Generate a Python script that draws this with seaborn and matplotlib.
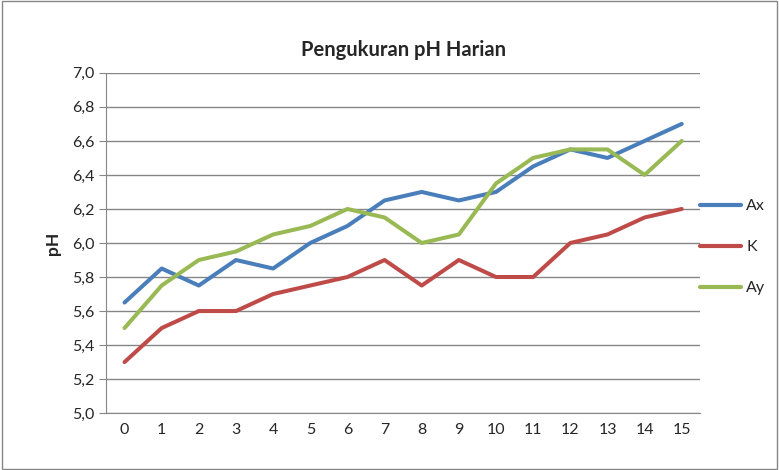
import matplotlib
matplotlib.use("Agg")
import matplotlib.pyplot as plt
from matplotlib.ticker import FixedLocator, FuncFormatter
import seaborn as sns
import pandas as pd

# daily pH readings
days = list(range(16))
ax_vals = [5.65, 5.85, 5.75, 5.9, 5.85, 6.0, 6.1, 6.25, 6.3, 6.25, 6.3, 6.45, 6.55, 6.5, 6.6, 6.7]
k_vals = [5.3, 5.5, 5.6, 5.6, 5.7, 5.75, 5.8, 5.9, 5.75, 5.9, 5.8, 5.8, 6.0, 6.05, 6.15, 6.2]
ay_vals = [5.5, 5.75, 5.9, 5.95, 6.05, 6.1, 6.2, 6.15, 6.0, 6.05, 6.35, 6.5, 6.55, 6.55, 6.4, 6.6]
series = ["Ax", "K", "Ay"]
colors = ["#4A7EBB", "#BE4B48", "#98B954"]

df = pd.DataFrame({"hari": days * 3,
                   "pH": ax_vals + k_vals + ay_vals,
                   "seri": [s for s in series for _ in days]})

sns.set_style("white")
plt.rcParams['font.family'] = ['Lato', 'DejaVu Sans']

fig = plt.figure(figsize=(7.79, 4.70), dpi=100)
ax = fig.add_axes([0.136, 0.121, 0.763, 0.724])

sns.lineplot(data=df, x="hari", y="pH", hue="seri", hue_order=series,
             palette=colors, linewidth=2.9, ax=ax, legend=False)

ax.set_xlim(-0.5, 15.5)
ax.set_ylim(5.0, 7.0)
ax.set_yticks([5.0 + 0.2 * i for i in range(11)])
ax.yaxis.set_major_formatter(FuncFormatter(lambda v, p: f"{v:.1f}".replace(".", ",")))
ax.set_xticks(days)
ax.xaxis.set_minor_locator(FixedLocator([d - 0.5 for d in days] + [15.5]))
ax.tick_params(axis="x", which="major", length=0, labelsize=11.5, pad=7)
ax.tick_params(axis="x", which="minor", length=5, color="#868686", direction="out")
ax.tick_params(axis="y", length=5, color="#868686", direction="out", labelsize=11.5, left=True)
ax.grid(axis="y", color="#868686", linewidth=1)
ax.set_axisbelow(True)
for side in ["top", "right"]:
    ax.spines[side].set_visible(False)
for side in ["left", "bottom"]:
    ax.spines[side].set_color("#868686")
ax.set_xlabel("")
ax.set_ylabel("pH", fontsize=12.5, fontweight="bold", labelpad=8)
ax.set_title("Pengukuran pH Harian", fontsize=14.5, fontweight="bold", pad=12)

handles = [plt.Line2D([], [], color=c, linewidth=3) for c in colors]
fig.legend(handles, series, loc="center left", bbox_to_anchor=(0.88, 0.474),
           frameon=False, fontsize=11.5, handlelength=2.6, labelspacing=1.68,
           handletextpad=0.3)

fig.patches.append(plt.Rectangle((0.002, 0.002), 0.996, 0.996, transform=fig.transFigure,
                                 fill=False, edgecolor="#868686", linewidth=1))

fig.savefig("out.png", dpi=100)
